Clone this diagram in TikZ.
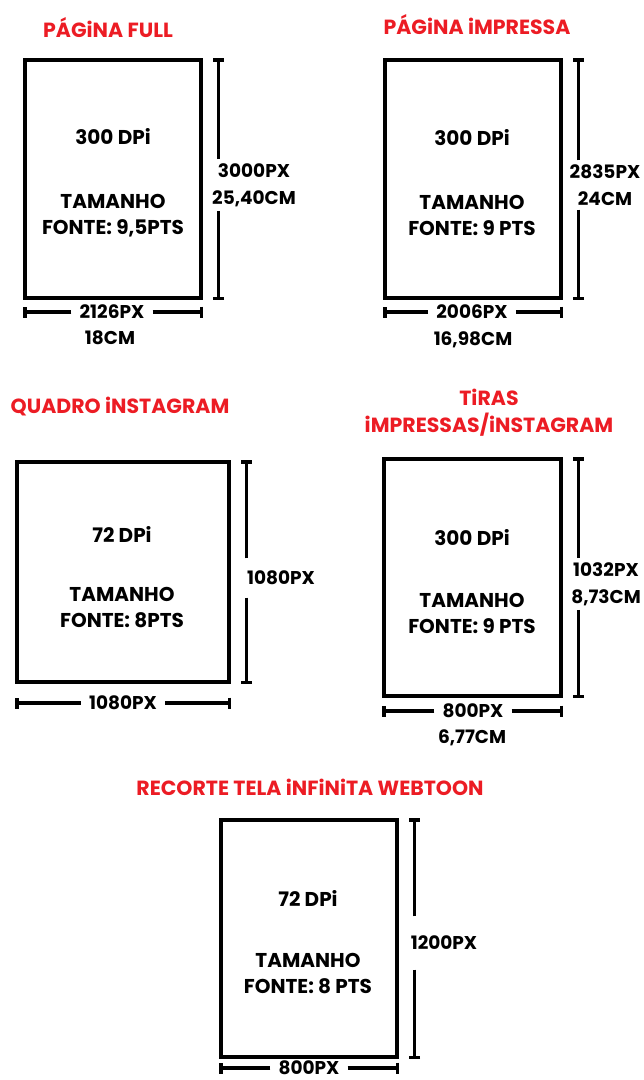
\documentclass[tikz,border=0pt]{standalone}
\usepackage{fontspec}
\setmainfont{Poppins}
\usetikzlibrary{arrows.meta, calc}
\definecolor{titlered}{RGB}{236,28,36}

\begin{document}
\begin{tikzpicture}[x=1pt,y=-1pt,
  page/.style={draw,line width=3.4pt,inner sep=0pt,minimum width=176pt,minimum height=238pt},
  title/.style={text=titlered,align=center,font=\fontsize{20.5}{27}\selectfont\bfseries},
  info/.style={align=center,font=\fontsize{20}{26}\selectfont\bfseries},
  dimtext/.style={align=center,inner xsep=8pt,inner ysep=4pt,font=\fontsize{18.5}{27}\selectfont\bfseries},
  dim/.style={line width=3.2pt,-{Bar[width=11pt]}}]
  \useasboundingbox (0,0) rectangle (644,1080);
  % Pagina full
  \node[title] (fulltitle) at (108,28) {PÁGiNA FULL};
  \node[page] (full) at (113,179) {};
  \node[info] (fulldpi) at (113,137) {300 DPi};
  \node[info] (fullfont) at (113,216) {TAMANHO\\FONTE: 9,5PTS};
  \node[dimtext,anchor=west,inner xsep=4pt] (fullh) at (208,185) {3000PX\\25,40CM};
  \node[dimtext] (fullw) at (112,312) {2126PX};
  \node[dimtext] (fullcm) at (110,338) {18CM};
  % Pagina impressa
  \node[title] (impressatitle) at (477,25) {PÁGiNA iMPRESSA};
  \node[page] (impressa) at (473,179) {};
  \node[info] (impressadpi) at (472,138) {300 DPi};
  \node[info] (impressafont) at (472,215) {TAMANHO\\FONTE: 9 PTS};
  \node[dimtext] (impressah) at (605,185) {2835PX\\24CM};
  \node[dimtext] (impressaw) at (472,312) {2006PX};
  \node[dimtext] (impressacm) at (473,340) {16,98CM};
  % Quadro instagram
  \node[title] (quadrotitle) at (120,407) {QUADRO iNSTAGRAM};
  \node[page,minimum width=212pt,minimum height=220pt] (quadro) at (123,572) {};
  \node[info] (quadrodpi) at (122,534) {72 DPi};
  \node[info] (quadrofont) at (122,608) {TAMANHO\\FONTE: 8PTS};
  \node[dimtext,minimum height=39pt] (quadroh) at (281,578) {1080PX};
  \node[dimtext] (quadrow) at (123,703) {1080PX};
  % Tiras
  \node[title] (tirastitle) at (489,413) {TiRAS\\iMPRESSAS/iNSTAGRAM};
  \node[page,minimum width=177pt,minimum height=237pt] (tiras) at (472.5,577.5) {};
  \node[info] (tirasdpi) at (472,538) {300 DPi};
  \node[info] (tirasfont) at (472,613) {TAMANHO\\FONTE: 9 PTS};
  \node[dimtext] (tirash) at (606,584) {1032PX\\8,73CM};
  \node[dimtext] (tirasw) at (473,711) {800PX};
  \node[dimtext] (tirascm) at (472,738) {6,77CM};
  % Webtoon
  \node[title] (webtoontitle) at (310,787) {RECORTE TELA iNFiNiTA WEBTOON};
  \node[page,minimum height=237pt] (webtoon) at (309,938.5) {};
  \node[info] (webtoondpi) at (308,898) {72 DPi};
  \node[info] (webtoonfont) at (308,974) {TAMANHO\\FONTE: 8 PTS};
  \node[dimtext,minimum height=53pt] (webtoonh) at (444,943) {1200PX};
  \node[dimtext] (webtoonw) at (309,1068) {800PX};
  % dimension bars
  \foreach \p in {full,impressa,quadro,tiras,webtoon}{
    \coordinate (\p top) at ([xshift=16pt]\p.north east);
    \coordinate (\p bot) at ([xshift=16pt]\p.south east);
    \draw[dim] (\p top |- \p h.north) -- (\p top);
    \draw[dim] (\p bot |- \p h.south) -- (\p bot);
    \draw[dim] (\p w.west) -- (\p w.west -| \p.west);
    \draw[dim] (\p w.east) -- (\p w.east -| \p.east);
  }
\end{tikzpicture}
\end{document}
